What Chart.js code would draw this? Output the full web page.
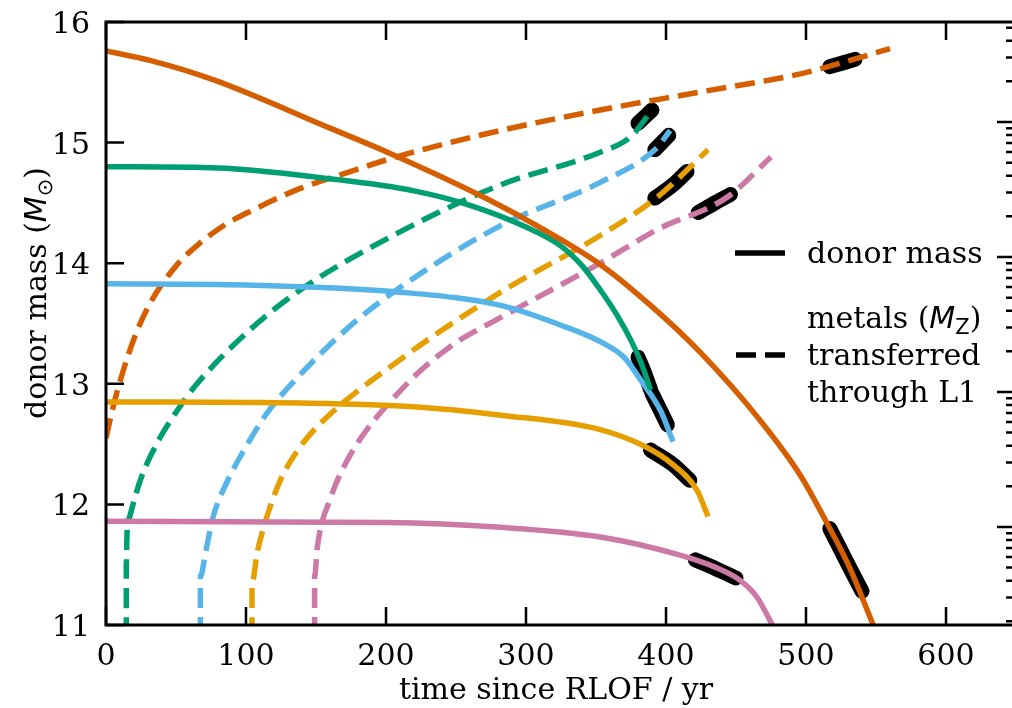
<!DOCTYPE html>
<html>
<head>
<meta charset="utf-8">
<script src="https://cdn.jsdelivr.net/npm/chart.js@4/dist/chart.umd.min.js"></script>
<style>
  html, body { margin: 0; padding: 0; background: #fff; overflow: hidden; }
  #wrap { position: absolute; left: 0; top: 0; width: 1030px; height: 708px; }
</style>
</head>
<body>
<div id="wrap"><canvas id="chart" width="1030" height="708"></canvas></div>
<script>
// axis ticks
var timeTicks = [0, 100, 200, 300, 400, 500, 600];
var massTicks = [11, 12, 13, 14, 15, 16];
var metalMajor = [1e-5, 1e-4, 1e-3, 1e-2, 1e-1];

// donor mass (solid lines), time in yr, mass in Msun
var orangeT = [0, 32, 77, 160, 203, 274.5, 314, 353, 389, 424.5, 467, 496, 517, 531, 548];
var orangeM = [15.76, 15.68, 15.52, 15.12, 14.91, 14.52, 14.27, 13.99, 13.65, 13.26, 12.70, 12.24, 11.80, 11.48, 11.0];
var greenT = [0, 80, 160, 220, 260, 300, 324, 340, 353, 365, 375, 382, 389];
var greenM = [14.80, 14.79, 14.70, 14.60, 14.48, 14.30, 14.15, 13.98, 13.78, 13.57, 13.36, 13.18, 12.95];
var blueT = [0, 100, 210, 282, 324, 353, 370, 382, 396, 405];
var blueM = [13.83, 13.82, 13.76, 13.65, 13.49, 13.35, 13.22, 13.03, 12.78, 12.52];
var yellowT = [0, 139, 220, 282, 353, 385, 405, 422, 430];
var yellowM = [12.85, 12.84, 12.81, 12.74, 12.62, 12.48, 12.33, 12.12, 11.90];
var pinkT = [0, 200, 282, 353, 410, 435, 453, 465, 476];
var pinkM = [11.86, 11.85, 11.81, 11.73, 11.58, 11.48, 11.37, 11.23, 11.0];

// metals transferred through L1 (dashed lines), read against the left axis
var orangeZT = [0, 4.5, 9.5, 20.2, 31.6, 50.2, 67.4, 85.2, 103, 138.8, 174.5, 210, 281.6, 353, 424.5, 496, 528, 560];
var orangeZ = [12.55, 12.78, 13.0, 13.38, 13.67, 13.98, 14.17, 14.32, 14.43, 14.62, 14.76, 14.89, 15.10, 15.27, 15.42, 15.57, 15.67, 15.78];
var greenZT = [14.5, 14.5, 15, 17, 24.5, 36.6, 51, 65, 103, 139, 210, 282, 353, 375, 390];
var greenZ = [10.9, 11.5, 11.75, 11.9, 12.2, 12.51, 12.78, 13.0, 13.45, 13.78, 14.26, 14.65, 14.92, 15.05, 15.27];
var blueZT = [67.4, 67.4, 71.1, 76.6, 86.6, 98.1, 115.2, 136.6, 174.5, 210.2, 281.6, 353, 392, 403];
var blueZ = [10.9, 11.4, 11.6, 11.9, 12.19, 12.44, 12.76, 13.05, 13.48, 13.80, 14.31, 14.67, 14.94, 15.10];
var yellowZT = [104.3, 104.3, 108, 115, 124.5, 137, 153, 210, 282, 353, 394, 430];
var yellowZ = [10.9, 11.35, 11.6, 11.9, 12.2, 12.45, 12.67, 13.2, 13.76, 14.23, 14.55, 14.94];
var pinkZT = [149, 149, 151, 160, 174.5, 210, 246, 282, 353, 394, 444, 475];
var pinkZ = [10.9, 11.4, 11.65, 12.04, 12.41, 12.94, 13.31, 13.55, 14.0, 14.28, 14.55, 14.88];

// black highlighted stretches
var greenMarkT = [380, 385, 389], greenMarkM = [13.22, 13.08, 12.95];
var blueMarkT = [390, 396, 401], blueMarkM = [12.92, 12.78, 12.66];
var yellowMarkT = [389, 405, 417], yellowMarkM = [12.45, 12.33, 12.20];
var pinkMarkT = [421, 435, 450], pinkMarkM = [11.54, 11.47, 11.39];
var orangeMarkT = [517, 531, 540], orangeMarkM = [11.80, 11.48, 11.28];
var greenZMarkT = [380, 390], greenZMark = [15.16, 15.27];
var blueZMarkT = [392, 402], blueZMark = [14.94, 15.06];
var yellowZMarkT = [392, 405, 415], yellowZMark = [14.54, 14.65, 14.76];
var pinkZMarkT = [423, 435, 446], pinkZMark = [14.42, 14.50, 14.57];
var orangeZMarkT = [517, 535], orangeZMark = [15.63, 15.69];

var ORANGE = '#D55E00', GREEN = '#009E73', BLUE = '#56B4E9', YELLOW = '#E69F00', PINK = '#CC79A7';
var SERIF = '"DejaVu Serif", serif';
var SANS = '"DejaVu Sans", sans-serif';
var FS = 30;

function pts(xs, ys) {
    return xs.map(function(x, i) { return {x: x, y: ys[i]}; });
}

function line(xs, ys, color, dashed) {
    return {
        data: pts(xs, ys),
        borderColor: color,
        borderWidth: 5.5,
        borderDash: dashed ? [20, 9] : [],
        pointRadius: 0,
        fill: false,
        cubicInterpolationMode: 'monotone',
        order: 1
    };
}

function mark(xs, ys) {
    return {
        data: pts(xs, ys),
        borderColor: '#000',
        borderWidth: 15,
        borderCapStyle: 'round',
        borderJoinStyle: 'round',
        pointRadius: 0,
        fill: false,
        cubicInterpolationMode: 'monotone',
        order: 5
    };
}

// draw text pieces one after another (for the math bits)
function richText(ctx, parts, x, y) {
    var cx = x;
    parts.forEach(function(p) {
        ctx.font = p.font;
        ctx.fillText(p.t, cx, y + (p.dy || 0));
        cx += ctx.measureText(p.t).width;
    });
}
function richWidth(ctx, parts) {
    var w = 0;
    parts.forEach(function(p) { ctx.font = p.font; w += ctx.measureText(p.t).width; });
    return w;
}

var mplAxes = {
    id: 'mplAxes',
    afterDraw: function(chart) {
        var ctx = chart.ctx, a = chart.chartArea;
        var sx = chart.scales.x, sy = chart.scales.y, sz = chart.scales.yZ;
        var serif = FS + 'px ' + SERIF;
        ctx.save();
        ctx.strokeStyle = '#000';
        ctx.fillStyle = '#000';

        // ticks, all pointing inwards
        ctx.lineWidth = 2.5;
        ctx.beginPath();
        timeTicks.forEach(function(t) {
            var px = sx.getPixelForValue(t);
            ctx.moveTo(px, a.bottom); ctx.lineTo(px, a.bottom - 18);
            ctx.moveTo(px, a.top); ctx.lineTo(px, a.top + 18);
        });
        massTicks.forEach(function(m) {
            var py = sy.getPixelForValue(m);
            ctx.moveTo(a.left, py); ctx.lineTo(a.left + 18, py);
        });
        metalMajor.forEach(function(d) {
            for (var k = 1; k <= 9; k++) {
                var v = k * d;
                if (v < sz.min || v > sz.max) continue;
                var py = sz.getPixelForValue(v);
                ctx.moveTo(a.right, py);
                ctx.lineTo(a.right - (k === 1 ? 19 : 10), py);
            }
        });
        ctx.stroke();

        // spines
        ctx.lineWidth = 3;
        ctx.strokeRect(a.left, a.top, a.right - a.left, a.bottom - a.top);

        // tick labels
        ctx.font = serif;
        ctx.textBaseline = 'alphabetic';
        ctx.textAlign = 'center';
        timeTicks.forEach(function(t) {
            ctx.fillText(String(t), sx.getPixelForValue(t), a.bottom + 40);
        });
        ctx.textAlign = 'right';
        massTicks.forEach(function(m) {
            ctx.fillText(String(m), a.left - 16, sy.getPixelForValue(m) + 11);
        });

        // x title
        ctx.textAlign = 'center';
        ctx.fillText('time since RLOF / yr', 556, 699);

        // y title
        ctx.textAlign = 'left';
        var yParts = [
            {t: 'donor mass (', font: serif},
            {t: 'M', font: 'italic ' + FS + 'px ' + SANS},
            {t: '\u2299', font: '21px ' + SANS, dy: 6},
            {t: ')', font: serif}
        ];
        ctx.save();
        ctx.translate(46, 293);
        ctx.rotate(-Math.PI / 2);
        richText(ctx, yParts, -richWidth(ctx, yParts) / 2, 0);
        ctx.restore();

        // legend
        ctx.lineWidth = 5.5;
        ctx.setLineDash([]);
        ctx.beginPath();
        ctx.moveTo(735, 253); ctx.lineTo(785, 253);
        ctx.stroke();
        ctx.setLineDash([20, 9]);
        ctx.beginPath();
        ctx.moveTo(736, 355); ctx.lineTo(785, 355);
        ctx.stroke();
        ctx.setLineDash([]);

        ctx.font = serif;
        ctx.fillText('donor mass', 807, 263);
        richText(ctx, [
            {t: 'metals (', font: serif},
            {t: 'M', font: 'italic ' + FS + 'px ' + SANS},
            {t: 'Z', font: '21px ' + SANS, dy: 6},
            {t: ')', font: serif}
        ], 807, 328);
        ctx.font = serif;
        ctx.fillText('transferred', 807, 365);
        ctx.fillText('through L1', 807, 402);
        ctx.restore();
    }
};

var datasets = [
    line(orangeT, orangeM, ORANGE, false),
    line(greenT, greenM, GREEN, false),
    line(blueT, blueM, BLUE, false),
    line(yellowT, yellowM, YELLOW, false),
    line(pinkT, pinkM, PINK, false),
    line(orangeZT, orangeZ, ORANGE, true),
    line(greenZT, greenZ, GREEN, true),
    line(blueZT, blueZ, BLUE, true),
    line(yellowZT, yellowZ, YELLOW, true),
    line(pinkZT, pinkZ, PINK, true),
    mark(greenMarkT, greenMarkM),
    mark(blueMarkT, blueMarkM),
    mark(yellowMarkT, yellowMarkM),
    mark(pinkMarkT, pinkMarkM),
    mark(orangeMarkT, orangeMarkM),
    mark(greenZMarkT, greenZMark),
    mark(blueZMarkT, blueZMark),
    mark(yellowZMarkT, yellowZMark),
    mark(pinkZMarkT, pinkZMark),
    mark(orangeZMarkT, orangeZMark)
];

new Chart(document.getElementById('chart').getContext('2d'), {
    type: 'line',
    data: { datasets: datasets },
    options: {
        responsive: false,
        animation: false,
        devicePixelRatio: 1,
        layout: { padding: { left: 106, top: 22, right: 14, bottom: 83 } },
        plugins: { legend: { display: false }, tooltip: { enabled: false } },
        scales: {
            x: { type: 'linear', min: 0, max: 650, display: false },
            y: { type: 'linear', min: 11, max: 16, display: false },
            yZ: { type: 'logarithmic', position: 'right', min: 1.879e-5, max: 0.5504, display: false }
        }
    },
    plugins: [mplAxes]
});
</script>
</body>
</html>
